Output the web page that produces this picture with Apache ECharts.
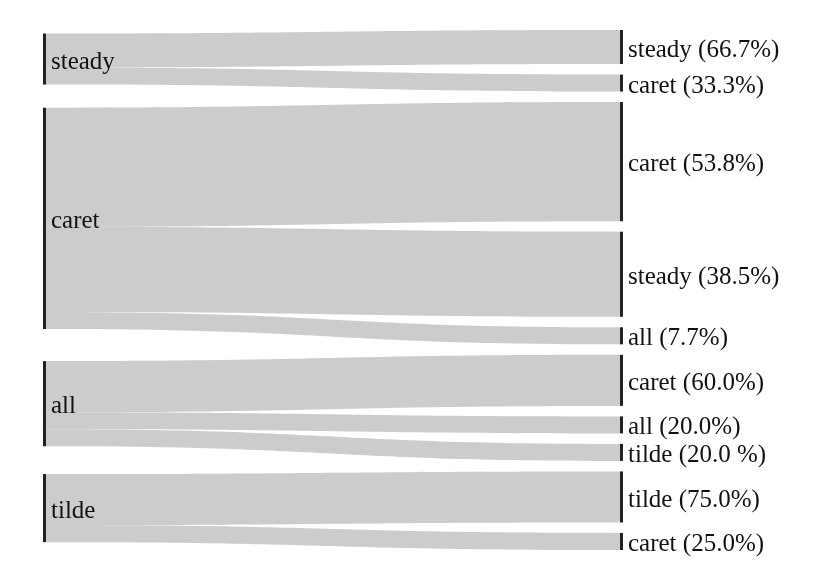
<!DOCTYPE html>
<html>
<head>
<meta charset="utf-8">
<script src="https://cdn.jsdelivr.net/npm/echarts@6/dist/echarts.min.js"></script>
<style>html,body{margin:0;padding:0;background:#fff}#c{width:830px;height:585px}</style>
</head>
<body>
<div id="c"></div>
<script>
const sourceNodes = ['steady', 'caret', 'all', 'tilde'];
const targetNodes = ['steady (66.7%)', 'caret (33.3%)', 'caret (53.8%)', 'steady (38.5%)', 'all (7.7%)',
  'caret (60.0%)', 'all (20.0%)', 'tilde (20.0 %)', 'tilde (75.0%)', 'caret (25.0%)'];
const linkSource = ['steady', 'steady', 'caret', 'caret', 'caret', 'all', 'all', 'all', 'tilde', 'tilde'];
const linkTarget = ['steady (66.7%)', 'caret (33.3%)', 'caret (53.8%)', 'steady (38.5%)', 'all (7.7%)',
  'caret (60.0%)', 'all (20.0%)', 'tilde (20.0 %)', 'tilde (75.0%)', 'caret (25.0%)'];
const linkValue = [2, 1, 7, 5, 1, 3, 1, 1, 3, 1];

const nodes = sourceNodes.map(n => ({ name: n, depth: 0 }))
  .concat(targetNodes.map(n => ({ name: n, depth: 1 })));
const links = linkSource.map((s, i) => ({ source: s, target: linkTarget[i], value: linkValue[i] }));

const chart = echarts.init(document.getElementById('c'));
chart.setOption({
  backgroundColor: '#fff',
  animation: false,
  series: [{
    type: 'sankey',
    left: 43,
    right: 207,
    top: 30,
    bottom: 35,
    nodeWidth: 3,
    nodeGap: 10.5,
    nodeAlign: 'left',
    layoutIterations: 32,
    draggable: false,
    emphasis: { disabled: true },
    data: nodes,
    links: links,
    itemStyle: { color: '#222', borderWidth: 0 },
    lineStyle: { color: '#cccccc', opacity: 1, curveness: 0.5 },
    label: {
      show: true,
      position: 'right',
      distance: 5,
      offset: [0, 3],
      color: '#111',
      fontFamily: 'Liberation Serif',
      fontSize: 25
    }
  }]
});
</script>
</body>
</html>
